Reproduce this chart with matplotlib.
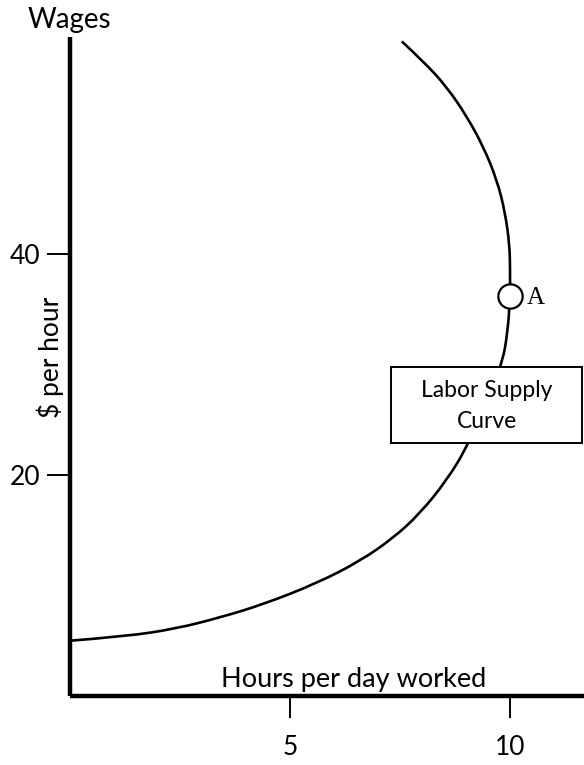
import matplotlib.pyplot as plt
from matplotlib.patches import Rectangle, PathPatch
from matplotlib.path import Path

# labor supply curve (hours, $ per hour)
hours = [0.0, 1.29, 2.42, 3.41, 4.4, 5.61, 6.59, 7.35, 7.95, 8.56, 9.05,
         9.81, 9.95, 10.0, 10.0, 9.99, 9.89, 9.70, 9.39, 9.02, 8.56, 8.03, 7.54]
wages = [5.0, 5.4, 6.1, 7.1, 8.3, 10.2, 12.2, 14.3, 16.5, 19.5, 22.7,
         29.8, 33.0, 36.2, 38.6, 40.7, 43.7, 46.7, 49.7, 52.4, 55.1, 57.4, 59.2]
point_a = (10.0, 36.2)
x_ticks = [5, 10]
y_ticks = [20, 40]

plt.rcParams['font.family'] = ['Lato', 'DejaVu Sans']


def smooth_path(xs, ys):
    # read points used as quadratic control points, so the line bends smoothly
    pts = list(zip(xs, ys))
    verts = [pts[0]]
    codes = [Path.MOVETO]
    for i in range(1, len(pts) - 1):
        mid = ((pts[i][0] + pts[i + 1][0]) / 2, (pts[i][1] + pts[i + 1][1]) / 2)
        if i == len(pts) - 2:
            mid = pts[-1]
        verts += [pts[i], mid]
        codes += [Path.CURVE3, Path.CURVE3]
    return Path(verts, codes)


fig = plt.figure(figsize=(5.84, 7.65), dpi=100)
ax = fig.add_axes([70 / 584, 69 / 765, 514 / 584, 659 / 765])
ax.set_xlim(0, 11.68)
ax.set_ylim(0, 59.6)

for side in ['top', 'right']:
    ax.spines[side].set_visible(False)
for side in ['left', 'bottom']:
    ax.spines[side].set_linewidth(3.2)
    ax.spines[side].set_capstyle('butt')

ax.add_patch(PathPatch(smooth_path(hours, wages), fill=False, edgecolor='black',
                       lw=1.9, capstyle='butt', zorder=2))

# label box sits on top of the curve
ax.add_patch(Rectangle((7.30, 22.9), 4.34, 6.87, facecolor='white',
                       edgecolor='black', lw=1.4, zorder=3))
ax.text(9.47, 26.2, 'Labor Supply\nCurve', ha='center', va='center',
        fontsize=16.5, linespacing=1.6, zorder=4)

ax.plot(*point_a, 'o', ms=17.5, mfc='white', mec='black', mew=1.6, zorder=5)
ax.text(10.37, point_a[1] - 0.2, 'A', family='Liberation Serif',
        fontsize=18, ha='left', va='center', zorder=5)

ax.set_xticks(x_ticks)
ax.set_yticks(y_ticks)
ax.tick_params(axis='x', length=16, width=1.4, pad=12, labelsize=19)
ax.tick_params(axis='y', length=16.5, width=1.4, pad=5, labelsize=19)

ax.text(6.45, 0.85, 'Hours per day worked', ha='center', va='baseline',
        fontsize=19.5)
fig.text(28 / 584, 1 - 28 / 765, 'Wages', ha='left', va='baseline', fontsize=20)
fig.text(50 / 584, 1 - 357 / 765, '$ per hour', rotation=90, ha='center',
         va='center', fontsize=19)

fig.savefig('out.png', dpi=100)
